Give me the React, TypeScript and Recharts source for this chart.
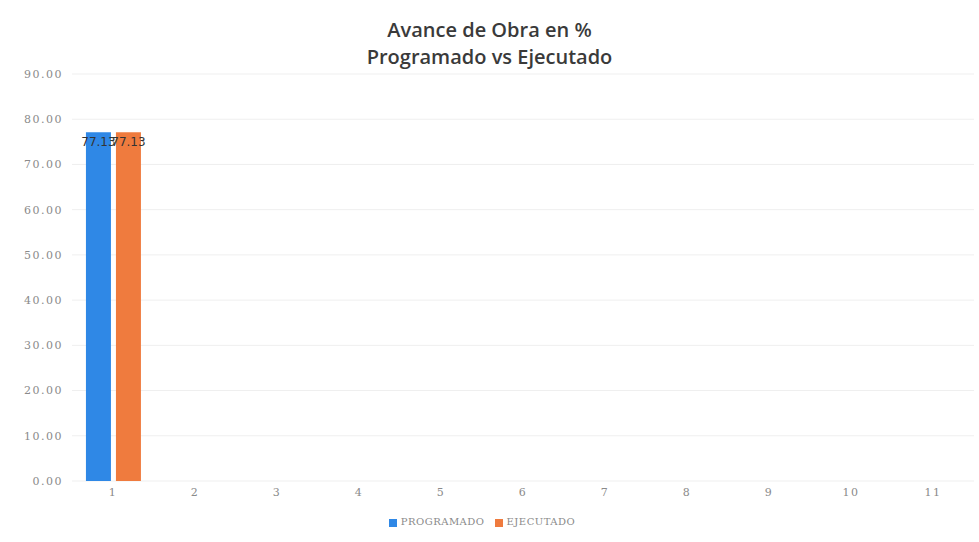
import React from "react";
import {
  BarChart,
  Bar,
  XAxis,
  YAxis,
  CartesianGrid,
  Legend,
  LabelList,
} from "recharts";

// periods on the x axis
const periods = ["1", "2", "3", "4", "5", "6", "7", "8", "9", "10", "11"];
// only the first period has values so far
const programado: (number | null)[] = [77.13, null, null, null, null, null, null, null, null, null, null];
const ejecutado: (number | null)[] = [77.13, null, null, null, null, null, null, null, null, null, null];
const yTicks = [0, 10, 20, 30, 40, 50, 60, 70, 80, 90];
const seriesOrder = ["PROGRAMADO", "EJECUTADO"];

const data = periods.map((p, i) => ({
  periodo: p,
  PROGRAMADO: programado[i],
  EJECUTADO: ejecutado[i],
}));

const tickStyle = {
  fill: "#8a8a8a",
  fontSize: 11,
  fontFamily: "DejaVu Serif",
  letterSpacing: 1.5,
};

const fmt = (v: number) => v.toFixed(2);

const App: React.FC = () => {
  return (
    <div
      style={{
        position: "absolute",
        left: 0,
        top: 0,
        width: 979,
        height: 542,
        background: "#fff",
      }}
    >
      <div
        style={{
          position: "absolute",
          left: 0,
          top: 16,
          width: 979,
          textAlign: "center",
          fontFamily: "Open Sans",
          fontWeight: 600,
          fontSize: 20,
          lineHeight: "27px",
          color: "#3a3a3a",
        }}
      >
        Avance de Obra en %
        <br />
        Programado vs Ejecutado
      </div>
      <BarChart
        width={979}
        height={542}
        data={data}
        margin={{ top: 74, right: 5, left: 0, bottom: 15 }}
        barCategoryGap="17%"
        barGap={5}
      >
        <CartesianGrid vertical={false} stroke="#efefef" />
        <XAxis
          dataKey="periodo"
          axisLine={false}
          tickLine={false}
          tickSize={0}
          tickMargin={7}
          height={35}
          tick={tickStyle}
        />
        <YAxis
          domain={[0, 90]}
          ticks={yTicks}
          tickFormatter={fmt}
          axisLine={false}
          tickLine={false}
          tickSize={0}
          tickMargin={9}
          width={72}
          tick={tickStyle}
        />
        <Legend
          verticalAlign="bottom"
          iconType="square"
          iconSize={8}
          itemSorter={(item: any) => seriesOrder.indexOf(String(item.dataKey))}
          wrapperStyle={{
            fontFamily: "DejaVu Serif",
            fontSize: 10,
            letterSpacing: 0.5,
          }}
          formatter={(value: string) => (
            <span style={{ color: "#8a8a8a" }}>{value}</span>
          )}
        />
        <Bar dataKey="PROGRAMADO" fill="#2f88e6" isAnimationActive={false}>
          <LabelList
            dataKey="PROGRAMADO"
            position="insideTop"
            offset={5}
            formatter={(v: any) => (v == null ? "" : fmt(Number(v)))}
            style={{ fill: "#333", fontSize: 12, fontFamily: "DejaVu Sans" }}
          />
        </Bar>
        <Bar dataKey="EJECUTADO" fill="#ef7b3e" isAnimationActive={false}>
          <LabelList
            dataKey="EJECUTADO"
            position="insideTop"
            offset={5}
            formatter={(v: any) => (v == null ? "" : fmt(Number(v)))}
            style={{ fill: "#333", fontSize: 12, fontFamily: "DejaVu Sans" }}
          />
        </Bar>
      </BarChart>
    </div>
  );
};

export default App;
